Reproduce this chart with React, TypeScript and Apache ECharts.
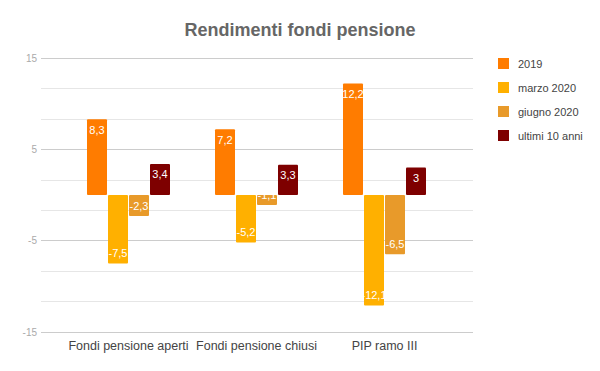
import React, { useEffect, useRef } from "react";
import * as echarts from "echarts";

const categories = ["Fondi pensione aperti", "Fondi pensione chiusi", "PIP ramo III"];
const seriesNames = ["2019", "marzo 2020", "giugno 2020", "ultimi 10 anni"];
const values2019 = [8.3, 7.2, 12.2];
const valuesMarzo2020 = [-7.5, -5.2, -12.1];
const valuesGiugno2020 = [-2.3, -1.1, -6.5];
const valuesUltimi10 = [3.4, 3.3, 3];
const colors = ["#FF7C00", "#FFB000", "#E89A2A", "#7E0000"];
const yTicks = { min: -15, max: 15, interval: 10 };

const FONT = "'Liberation Sans', Arial, sans-serif";

export default function App() {
  const ref = useRef<HTMLDivElement>(null);
  useEffect(() => {
    if (!ref.current) return;
    const chart = echarts.init(ref.current, undefined, { renderer: "svg" });
    const all = [values2019, valuesMarzo2020, valuesGiugno2020, valuesUltimi10];
    const series = all.map((vals, i) => ({
      name: seriesNames[i],
      type: "bar",
      xAxisIndex: 1,
      yAxisIndex: 1,
      barWidth: 20,
      barGap: "5%",
      itemStyle: { color: colors[i], borderRadius: 1 },
      data: vals.map((v) => ({
        value: v,
        label: {
          show: true,
          position: v >= 0 ? "insideTop" : "insideBottom",
          distance: 5,
          color: "#fff",
          fontSize: 11,
          fontFamily: FONT,
          formatter: (p: any) => String(p.value).replace(".", ","),
        },
      })),
    }));
    chart.setOption({
      animation: false,
      backgroundColor: "#fff",
      title: {
        text: "Rendimenti fondi pensione",
        left: "center",
        top: 21,
        padding: 0,
        textStyle: { fontSize: 18, fontWeight: "bold", color: "#666", fontFamily: FONT },
      },
      legend: {
        orient: "vertical",
        left: 493,
        top: 53,
        itemWidth: 11,
        itemHeight: 11,
        itemGap: 13,
        icon: "rect",
        data: seriesNames,
        textStyle: { fontSize: 11, color: "#444", fontFamily: FONT, padding: [0, 0, 0, 4] },
      },
      grid: [
        { left: 41, right: 127, top: 58, bottom: 39 },
        { left: 64.5, right: 151.5, top: 58, bottom: 39 },
      ],
      xAxis: [
        { type: "value", gridIndex: 0, show: false, min: 0, max: 1, splitLine: { show: false } },
        {
          type: "category",
          gridIndex: 1,
          data: categories,
          axisLine: { show: false },
          axisTick: { show: false },
          axisLabel: { color: "#444", fontSize: 12.5, fontFamily: FONT, margin: 7, interval: 0 },
        },
      ],
      yAxis: [
        {
          type: "value",
          gridIndex: 0,
          min: yTicks.min,
          max: yTicks.max,
          interval: yTicks.interval,
          axisLine: { show: false },
          axisTick: { show: false },
          axisLabel: { color: "#aaa", fontSize: 10, fontFamily: FONT, margin: 4 },
          splitLine: { show: true, lineStyle: { color: "#ccc", width: 1 } },
          minorTick: { show: false, splitNumber: 3 },
          minorSplitLine: { show: true, lineStyle: { color: "#e6e6e6", width: 1 } },
        },
        {
          type: "value",
          gridIndex: 1,
          min: yTicks.min,
          max: yTicks.max,
          interval: yTicks.interval,
          show: false,
          splitLine: { show: false },
        },
      ],
      series,
    });
    return () => chart.dispose();
  }, []);
  return <div ref={ref} style={{ width: 600, height: 371, margin: -8 }} />;
}
